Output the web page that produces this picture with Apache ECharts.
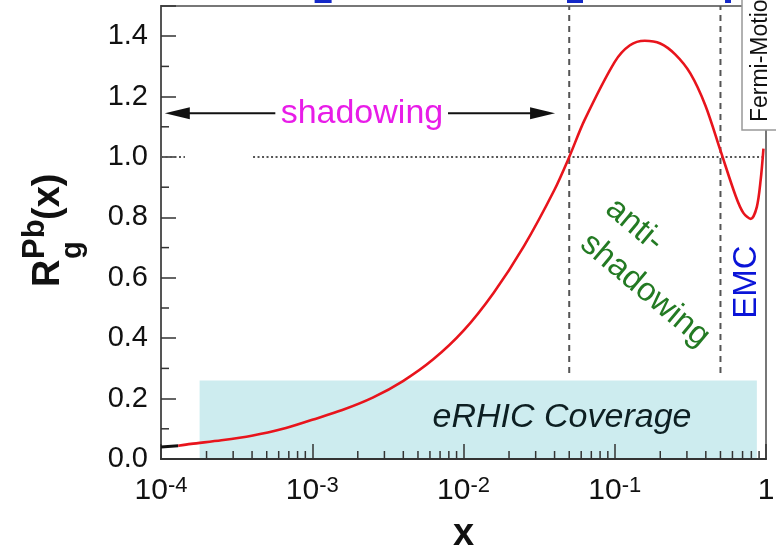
<!DOCTYPE html>
<html>
<head>
<meta charset="utf-8">
<script src="https://cdn.jsdelivr.net/npm/echarts@6/dist/echarts.min.js"></script>
<style>
html, body { margin: 0; padding: 0; background: #ffffff; }
#chart { width: 776px; height: 548px; }
</style>
</head>
<body>
<div id="chart"></div>
<script>
// Gluon nuclear modification factor for lead, R_g^Pb(x), versus Bjorken x.
const curveX = [1.3e-4, 1.58e-4, 2.51e-4, 3.98e-4, 6.31e-4, 1.0e-3, 1.58e-3, 2.51e-3, 3.98e-3, 6.31e-3,
                0.0100, 0.0158, 0.0251, 0.0398, 0.050, 0.0631, 0.100, 0.126, 0.158, 0.200,
                0.251, 0.316, 0.398, 0.501, 0.631, 0.708, 0.794, 0.870, 0.922, 0.962];
const curveY = [0.044, 0.050, 0.062, 0.077, 0.099, 0.130, 0.162, 0.203, 0.258, 0.330,
                0.425, 0.550, 0.705, 0.890, 1.000, 1.122, 1.315, 1.370, 1.385, 1.376,
                1.340, 1.277, 1.170, 1.020, 0.870, 0.815, 0.795, 0.835, 0.924, 1.028];

// short black lead-in at the lowest x
const leadX = [1.0e-4, 1.3e-4];
const leadY = [0.040, 0.044];

// axis ticks
const xDecades = [-4, -3, -2, -1, 0];
const minorMultipliers = [2, 3, 4, 5, 6, 7, 8, 9];
const yMajorStep = 0.2;
const yMinorTicks = [0.1, 0.3, 0.5, 0.7, 0.9, 1.1, 1.3];

// region boundaries (shadowing / anti-shadowing / EMC)
const boundaryX = [0.05, 0.5];
const boundaryYRange = [0.285, 1.5];

// dotted reference line at R = 1
const unityY = 1.0;
const unityStartX = [1.0e-4, 4.06e-4];
const unityEndX = [1.44e-4, 1.0];

// eRHIC kinematic coverage band
const coverageX = [1.8e-4, 0.87];
const coverageY = [0.0, 0.26];
const coverageLabel = 'eRHIC Coverage';
const coverageLabelPos = [0.0448, 0.136];

// shadowing arrow
const shadowArrowX = [1.06e-4, 0.0403];
const shadowArrowGapX = [5.7e-4, 7.9e-3];
const shadowArrowY = 1.145;
const shadowLabel = 'shadowing';
const shadowLabelPos = [2.13e-3, 1.145];

const antiLabelLines = ['anti-', 'shadowing'];
const antiLabelPos = [0.1585, 0.559];

const emcLabel = 'EMC';
const emcLabelPos = [0.748, 0.586];

const fermiLabel = 'Fermi-Motion';
const fermiBoxCorner = [0.694, 1.089];

// blue fragments along the top edge
const topMarkX = [1.18e-3, 0.0546, 0.561];
const topMarkWidth = [17, 16, 6];
const topMarkY = [1.5, 1.51];

const FONT = '"Liberation Sans", Arial, Helvetica, sans-serif';

const xMinorTicks = [];
xDecades.slice(0, -1).forEach(function (d) {
  minorMultipliers.forEach(function (m) { xMinorTicks.push(m * Math.pow(10, d)); });
});

const chart = echarts.init(document.getElementById('chart'), null, { renderer: 'canvas' });

const option = {
  animation: false,
  backgroundColor: '#ffffff',
  grid: {
    left: 161, right: 10, top: 6, bottom: 89,
    containLabel: false,
    outerBoundsMode: 'none',
    show: true, borderColor: '#777', borderWidth: 2, backgroundColor: 'transparent'
  },
  xAxis: {
    type: 'log',
    logBase: 10,
    min: 1e-4,
    max: 1,
    axisLine: { show: true, onZero: false, lineStyle: { color: '#333', width: 2 } },
    axisTick: { show: true, inside: true, length: 15, lineStyle: { color: '#333', width: 1.5 } },
    splitLine: { show: false },
    axisLabel: {
      margin: 16,
      color: '#111',
      formatter: function (v) {
        const e = Math.round(Math.log10(v));
        return e === 0 ? '{b|1}' : '{b|10}{s|' + e + '}';
      },
      rich: {
        b: { fontSize: 30, fontFamily: FONT, color: '#111', lineHeight: 32 },
        s: { fontSize: 22, fontFamily: FONT, color: '#111', lineHeight: 22, verticalAlign: 'top' }
      }
    },
    name: 'x',
    nameLocation: 'middle',
    nameGap: 57,
    nameTextStyle: { fontSize: 38, fontWeight: 'bold', fontFamily: FONT, color: '#111' }
  },
  yAxis: {
    type: 'value',
    min: 0,
    max: 1.5,
    interval: yMajorStep,
    axisLine: { show: true, lineStyle: { color: '#555', width: 2 } },
    axisTick: { show: true, inside: true, length: 15, lineStyle: { color: '#333', width: 1.5 } },
    splitLine: { show: false },
    axisLabel: {
      margin: 13,
      color: '#111',
      fontSize: 29,
      fontFamily: FONT,
      formatter: function (v) { return v > 1.45 ? '' : v.toFixed(1); }
    }
  },
  graphic: [
    {
      type: 'group',
      x: 63, y: 287,
      rotation: Math.PI / 2,
      children: [
        { type: 'text', x: 0, y: -14, style: { text: 'R', font: 'bold 38px ' + FONT, fill: '#111', verticalAlign: 'middle', align: 'left' } },
        { type: 'text', x: 28, y: -28, style: { text: 'Pb', font: 'bold 31px ' + FONT, fill: '#111', verticalAlign: 'middle', align: 'left' } },
        { type: 'text', x: 28, y: 10, style: { text: 'g', font: 'bold 29px ' + FONT, fill: '#111', verticalAlign: 'middle', align: 'left' } },
        { type: 'text', x: 67, y: -14, style: { text: '(x)', font: 'bold 38px ' + FONT, fill: '#111', verticalAlign: 'middle', align: 'left' } }
      ]
    }
  ],
  series: [
    // coverage band
    {
      type: 'custom', z: -1, silent: true,
      data: [[coverageX[0], coverageY[0], coverageX[1], coverageY[1]]],
      encode: { x: [0, 2], y: [1, 3] },
      renderItem: function (params, api) {
        const p0 = api.coord([api.value(0), api.value(1)]);
        const p1 = api.coord([api.value(2), api.value(3)]);
        return {
          type: 'rect',
          shape: { x: p0[0], y: p1[1], width: p1[0] - p0[0], height: p0[1] - p1[1] },
          style: { fill: '#cdecef' }
        };
      }
    },
    // coverage label
    {
      type: 'custom', z: 3, silent: true,
      data: [coverageLabelPos],
      renderItem: function (params, api) {
        const p = api.coord([api.value(0), api.value(1)]);
        return {
          type: 'text', x: p[0], y: p[1],
          style: { text: coverageLabel, font: 'italic 34px ' + FONT, fill: '#0d1f22', align: 'center', verticalAlign: 'middle' }
        };
      }
    },
    // region boundaries
    {
      type: 'custom', z: 1, silent: true,
      data: boundaryX.map(function (x) { return [x, boundaryYRange[0], boundaryYRange[1]]; }),
      encode: { x: 0, y: [1, 2] },
      renderItem: function (params, api) {
        const a = api.coord([api.value(0), api.value(1)]);
        const b = api.coord([api.value(0), api.value(2)]);
        return {
          type: 'line',
          shape: { x1: a[0], y1: a[1], x2: b[0], y2: b[1] },
          style: { stroke: '#555', lineWidth: 2, lineDash: [6, 5] }
        };
      }
    },
    // R = 1 reference
    {
      type: 'custom', z: 1, silent: true,
      data: unityStartX.map(function (x, i) { return [x, unityY, unityEndX[i]]; }),
      encode: { x: [0, 2], y: 1 },
      renderItem: function (params, api) {
        const a = api.coord([api.value(0), api.value(1)]);
        const b = api.coord([api.value(2), api.value(1)]);
        return {
          type: 'line',
          shape: { x1: a[0], y1: a[1], x2: b[0], y2: b[1] },
          style: { stroke: '#555', lineWidth: 2, lineDash: [2, 2.5] }
        };
      }
    },
    // minor ticks on x
    {
      type: 'custom', z: 3, silent: true,
      data: xMinorTicks.map(function (v) { return [v, 0]; }),
      renderItem: function (params, api) {
        const p = api.coord([api.value(0), 0]);
        return {
          type: 'line',
          shape: { x1: p[0], y1: p[1], x2: p[0], y2: p[1] - 8 },
          style: { stroke: '#333', lineWidth: 1.5 }
        };
      }
    },
    // minor ticks on y
    {
      type: 'custom', z: 3, silent: true,
      data: yMinorTicks.map(function (v) { return [1e-4, v]; }),
      renderItem: function (params, api) {
        const p = api.coord([api.value(0), api.value(1)]);
        return {
          type: 'line',
          shape: { x1: p[0], y1: p[1], x2: p[0] + 8, y2: p[1] },
          style: { stroke: '#333', lineWidth: 1.5 }
        };
      }
    },
    // shadowing arrow with label
    {
      type: 'custom', z: 3, silent: true,
      data: [[shadowArrowX[0], shadowArrowY, shadowArrowX[1], shadowArrowGapX[0], shadowArrowGapX[1]]],
      encode: { x: [0, 2], y: 1 },
      renderItem: function (params, api) {
        const y = api.value(1);
        const L = api.coord([api.value(0), y]);
        const R = api.coord([api.value(2), y]);
        const gl = api.coord([api.value(3), y]);
        const gr = api.coord([api.value(4), y]);
        const t = api.coord(shadowLabelPos);
        const head = 25, half = 6;
        return {
          type: 'group',
          children: [
            { type: 'line', shape: { x1: L[0] + head - 2, y1: L[1], x2: gl[0], y2: gl[1] }, style: { stroke: '#111', lineWidth: 2 } },
            { type: 'line', shape: { x1: gr[0], y1: gr[1], x2: R[0] - head + 2, y2: R[1] }, style: { stroke: '#111', lineWidth: 2 } },
            { type: 'polygon', shape: { points: [[L[0], L[1]], [L[0] + head, L[1] - half], [L[0] + head, L[1] + half]] }, style: { fill: '#111' } },
            { type: 'polygon', shape: { points: [[R[0], R[1]], [R[0] - head, R[1] - half], [R[0] - head, R[1] + half]] }, style: { fill: '#111' } },
            { type: 'text', x: t[0], y: t[1], style: { text: shadowLabel, font: '34px ' + FONT, fill: '#e81ce8', align: 'center', verticalAlign: 'middle' } }
          ]
        };
      }
    },
    // anti-shadowing label
    {
      type: 'custom', z: 3, silent: true,
      data: [antiLabelPos],
      renderItem: function (params, api) {
        const p = api.coord([api.value(0), api.value(1)]);
        return {
          type: 'group', x: p[0], y: p[1], rotation: -40 * Math.PI / 180,
          children: [
            { type: 'text', x: -50, y: -43, style: { text: antiLabelLines[0], font: '33px ' + FONT, fill: '#237a23', align: 'center', verticalAlign: 'middle' } },
            { type: 'text', x: 0, y: 0, style: { text: antiLabelLines[1], font: '33px ' + FONT, fill: '#237a23', align: 'center', verticalAlign: 'middle' } }
          ]
        };
      }
    },
    // EMC label
    {
      type: 'custom', z: 3, silent: true,
      data: [emcLabelPos],
      renderItem: function (params, api) {
        const p = api.coord([api.value(0), api.value(1)]);
        return {
          type: 'text', x: p[0], y: p[1], rotation: Math.PI / 2,
          style: { text: emcLabel, font: '33px ' + FONT, fill: '#0a14d8', align: 'center', verticalAlign: 'middle' }
        };
      }
    },
    // Fermi-motion box
    {
      type: 'custom', z: 5, silent: true,
      data: [fermiBoxCorner],
      renderItem: function (params, api) {
        const p = api.coord([api.value(0), api.value(1)]);
        return {
          type: 'group',
          children: [
            { type: 'rect', shape: { x: p[0], y: p[1] - 160, width: 60, height: 160 }, style: { fill: '#ffffff', stroke: '#999', lineWidth: 1.5 } },
            { type: 'text', x: p[0] + 19, y: p[1] - 8, rotation: Math.PI / 2,
              style: { text: fermiLabel, font: '23px ' + FONT, fill: '#111', align: 'left', verticalAlign: 'middle' } }
          ]
        };
      }
    },
    // blue fragments at top edge
    {
      type: 'custom', z: 5, silent: true,
      data: topMarkX.map(function (x, i) { return [x, topMarkY[0], topMarkWidth[i]]; }),
      renderItem: function (params, api) {
        const a = api.coord([api.value(0), topMarkY[1]]);
        const b = api.coord([api.value(0), topMarkY[0]]);
        const w = api.value(2);
        return {
          type: 'rect',
          shape: { x: a[0] - w / 2, y: a[1] - 4, width: w, height: b[1] - a[1] + 1 },
          style: { fill: '#1428c8' }
        };
      }
    },
    // lead-in segment
    {
      type: 'line', z: 4, silent: true, symbol: 'none',
      data: leadX.map(function (x, i) { return [x, leadY[i]]; }),
      lineStyle: { color: '#111', width: 3 }
    },
    // R_g^Pb(x)
    {
      type: 'line', z: 4, silent: true, symbol: 'none', smooth: 0.3,
      data: curveX.map(function (x, i) { return [x, curveY[i]]; }),
      lineStyle: { color: '#e8141c', width: 2.6 }
    }
  ]
};

chart.setOption(option);
</script>
</body>
</html>
